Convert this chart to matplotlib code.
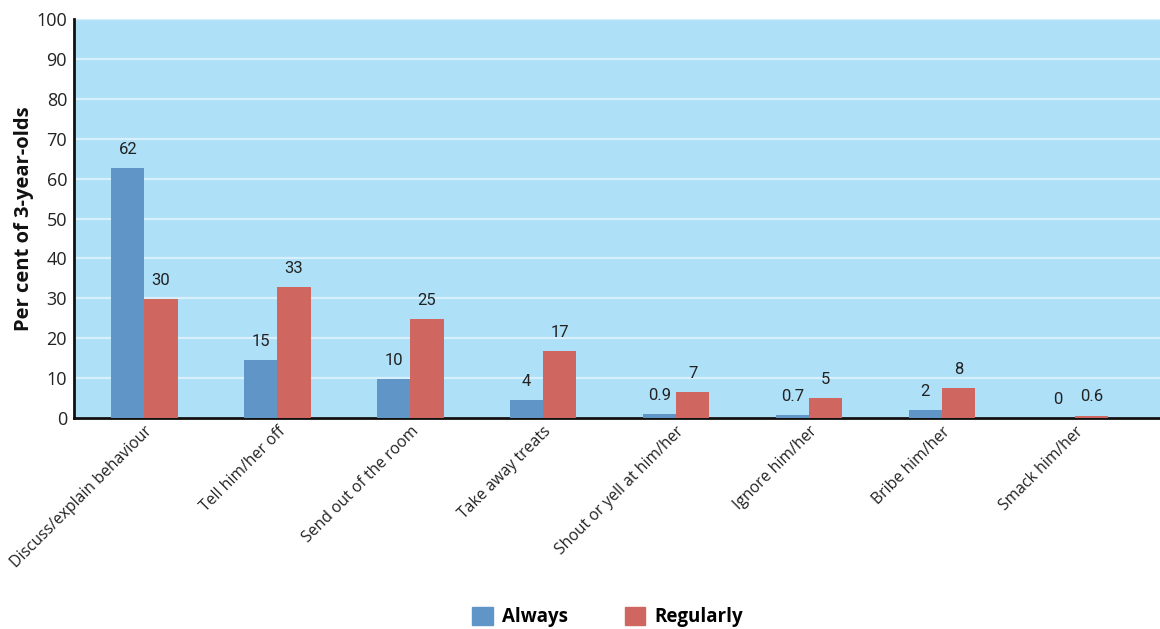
import matplotlib
matplotlib.use("Agg")
import matplotlib.pyplot as plt
import numpy as np
from matplotlib.patches import Patch

categories = ["Discuss/explain behaviour", "Tell him/her off", "Send out of the room",
              "Take away treats", "Shout or yell at him/her", "Ignore him/her",
              "Bribe him/her", "Smack him/her"]
always = [62.6, 14.5, 9.8, 4.4, 0.9, 0.7, 1.9, 0.0]
regularly = [29.7, 32.9, 24.8, 16.8, 6.4, 4.9, 7.4, 0.6]
always_labels = ["62", "15", "10", "4", "0.9", "0.7", "2", "0"]
regularly_labels = ["30", "33", "25", "17", "7", "5", "8", "0.6"]
yticks = [0, 10, 20, 30, 40, 50, 60, 70, 80, 90, 100]

BLUE = "#6095c8"
RED = "#cf6660"
BG = "#aee0f8"

fig = plt.figure(figsize=(11.6, 6.29), dpi=100)
ax = fig.add_axes([74/1160, 1 - 418/629, (1160-74)/1160, (418-19)/629])
ax.set_facecolor(BG)

x = np.arange(len(categories))
w = 0.25
b1 = ax.bar(x - w/2, always, w, color=BLUE, zorder=3)
b2 = ax.bar(x + w/2, regularly, w, color=RED, zorder=3)

lab_font = dict(family="Roboto", fontsize=12, color="#222222", fontstretch="condensed")
for rect, t in zip(b1, always_labels):
    ax.annotate(t, (rect.get_x() + rect.get_width()/2, rect.get_height()),
                xytext=(0, 8), textcoords="offset points", ha="center", va="bottom", **lab_font)
for rect, t in zip(b2, regularly_labels):
    ax.annotate(t, (rect.get_x() + rect.get_width()/2, rect.get_height()),
                xytext=(0, 8), textcoords="offset points", ha="center", va="bottom", **lab_font)

ax.set_xlim(-0.53, 7.64)
ax.set_ylim(0, 100)
ax.set_yticks(yticks)
ax.set_yticklabels([str(v) for v in yticks], family="Open Sans", fontsize=13, color="#222222")
ax.yaxis.grid(True, color="#d8f0fc", linewidth=1.6, zorder=1)
ax.set_axisbelow(True)
ax.tick_params(axis="y", length=0, pad=5)
ax.tick_params(axis="x", length=0, pad=4)
ax.set_xticks(x)
ax.set_xticklabels(categories, rotation=45, ha="right", rotation_mode="anchor",
                   family="Open Sans", fontsize=11.3, color="#222222")

for s in ["top", "right"]:
    ax.spines[s].set_visible(False)
ax.spines["left"].set_linewidth(2)
ax.spines["bottom"].set_linewidth(2)
ax.spines["left"].set_color("#111111")
ax.spines["bottom"].set_color("#111111")

ax.set_ylabel("Per cent of 3-year-olds", family="Open Sans", fontweight="bold",
              fontsize=14.5, color="#111111")
ax.yaxis.set_label_coords(-0.037, 0.5)

handles = [Patch(color=BLUE, label="Always"), Patch(color=RED, label="Regularly")]
fig.legend(handles=handles, loc="center", bbox_to_anchor=(0.524, 1 - 617/629), ncol=2,
           frameon=False, prop=dict(family="Open Sans", weight="bold", size=13.5),
           handlelength=1.1, handleheight=1.1, columnspacing=3.0, handletextpad=0.5)

fig.savefig("out.png", dpi=100, facecolor="white")
